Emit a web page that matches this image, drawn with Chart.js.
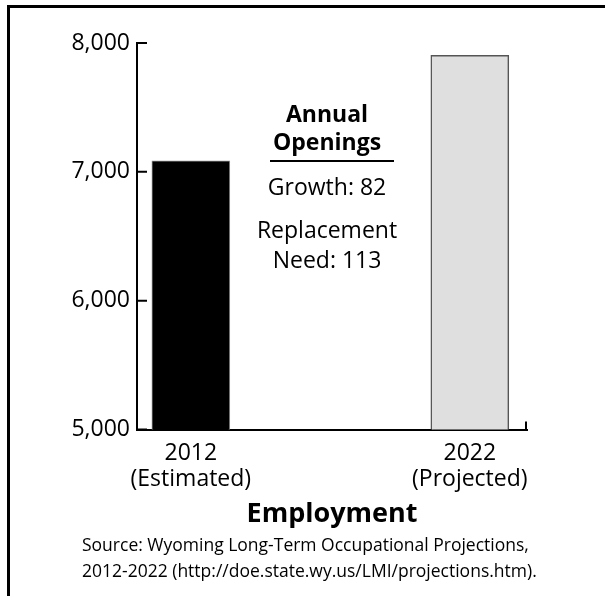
<!DOCTYPE html>
<html>
<head>
<meta charset="utf-8">
<script src="https://cdn.jsdelivr.net/npm/chart.js@4.4.1/dist/chart.umd.min.js"></script>
<style>
  html, body { margin: 0; padding: 0; background: #fff; overflow: hidden; }
  #frame {
    position: absolute; left: 7px; top: 5px; width: 700px; height: 700px;
    border-top: 3px solid #000; border-left: 3px solid #000;
  }
  #chart { position: absolute; left: 0; top: 0; }
</style>
</head>
<body>
<div id="frame"></div>
<canvas id="chart" width="605" height="596"></canvas>
<script>
const years = [2012, 2022];
const yearNotes = ['(Estimated)', '(Projected)'];
const employment = [7085, 7905];
const yTicks = [5000, 6000, 7000, 8000];
const annualGrowth = 82;
const replacementNeed = 113;
const sourceLines = [
    'Source: Wyoming Long-Term Occupational Projections,',
    '2012-2022 (http://doe.state.wy.us/LMI/projections.htm).'
];

Chart.defaults.font.family = "'Open Sans', sans-serif";
Chart.defaults.color = '#000';

// Inward tick marks on the y axis and the small end mark on the x axis
const axisMarks = {
    id: 'axisMarks',
    afterDraw(chart) {
        const { ctx, chartArea, scales: { y } } = chart;
        ctx.save();
        ctx.strokeStyle = '#000';
        ctx.lineWidth = 2;
        ctx.beginPath();
        yTicks.forEach(v => {
            const py = y.getPixelForValue(v);
            ctx.moveTo(chartArea.left, py);
            ctx.lineTo(chartArea.left + 10, py);
        });
        ctx.moveTo(chartArea.right - 1, chartArea.bottom);
        ctx.lineTo(chartArea.right - 1, chartArea.bottom - 8);
        ctx.stroke();
        ctx.restore();
    }
};

// "Annual Openings" note between the bars
const openingsNote = {
    id: 'openingsNote',
    afterDraw(chart) {
        const { ctx, chartArea } = chart;
        const cx = chartArea.left + 190;
        const top = chartArea.top;
        ctx.save();
        ctx.fillStyle = '#000';
        ctx.textAlign = 'center';
        ctx.textBaseline = 'alphabetic';
        ctx.font = "bold 23px 'Open Sans', sans-serif";
        ctx.fillText('Annual', cx, top + 78.7);
        ctx.fillText('Openings', cx, top + 107);
        ctx.fillRect(cx - 57, top + 117, 124, 2);
        ctx.font = "23px 'Open Sans', sans-serif";
        ctx.fillText('Growth: ' + annualGrowth, cx, top + 152);
        ctx.fillText('Replacement', cx, top + 195);
        ctx.fillText('Need: ' + replacementNeed, cx, top + 225);
        ctx.restore();
    }
};

// Source note, left aligned under the axis title
const sourceNote = {
    id: 'sourceNote',
    afterDraw(chart) {
        const { ctx } = chart;
        ctx.save();
        ctx.fillStyle = '#000';
        ctx.textAlign = 'left';
        ctx.textBaseline = 'alphabetic';
        ctx.font = "17.5px 'Open Sans', sans-serif";
        sourceLines.forEach((line, i) => ctx.fillText(line, 82, 551 + i * 26));
        ctx.restore();
    }
};

new Chart(document.getElementById('chart').getContext('2d'), {
    type: 'bar',
    data: {
        datasets: [{
            data: years.map((yr, i) => ({ x: yr, y: employment[i] })),
            backgroundColor: ['#000000', '#dfdfe0'],
            borderColor: ['#8c8c8c', '#555555'],
            borderWidth: [1, 1.5],
            barThickness: 78
        }]
    },
    options: {
        responsive: false,
        animation: false,
        devicePixelRatio: 1,
        layout: { padding: { top: 43, right: 78, bottom: 65.8, left: 0 } },
        plugins: {
            legend: { display: false },
            tooltip: { enabled: false }
        },
        scales: {
            x: {
                type: 'linear',
                min: 2010.07,
                max: 2024.05,
                offset: false,
                z: 1,
                grid: { display: false, drawTicks: false, offset: false },
                border: { display: true, color: '#000', width: 2 },
                afterBuildTicks: axis => { axis.ticks = years.map(v => ({ value: v })); },
                afterFit: axis => { axis.height = 100.7; },
                ticks: {
                    autoSkip: false,
                    maxRotation: 0,
                    padding: 11,
                    font: { size: 23, lineHeight: 26 / 23 },
                    callback: (value, i) => [String(years[i]), yearNotes[i]]
                },
                title: {
                    display: true,
                    text: 'Employment',
                    font: { size: 27, weight: 'bold' },
                    padding: { top: 0, bottom: 0 }
                }
            },
            y: {
                min: 5000,
                max: 8000,
                z: 1,
                grid: { display: false, drawTicks: false },
                border: { display: true, color: '#000', width: 2 },
                afterBuildTicks: axis => { axis.ticks = yTicks.map(v => ({ value: v })); },
                afterFit: axis => { axis.width = 137; },
                ticks: {
                    padding: 7,
                    font: { size: 23 },
                    callback: v => v.toLocaleString('en-US')
                }
            }
        }
    },
    plugins: [axisMarks, openingsNote, sourceNote]
});
</script>
</body>
</html>
